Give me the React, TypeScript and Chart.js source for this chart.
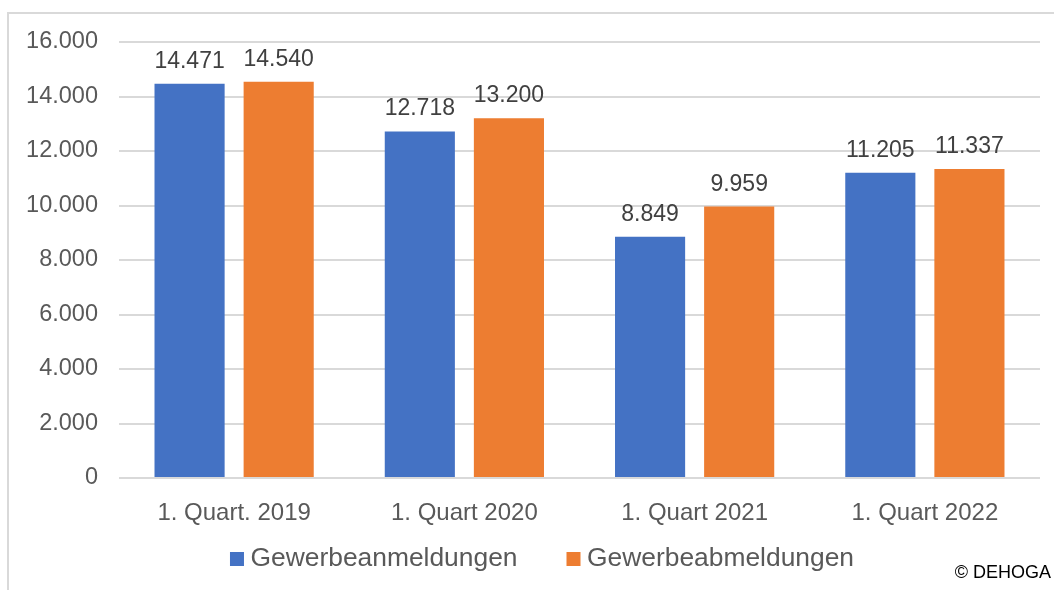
import React, { useEffect, useRef } from "react";
import { Chart, registerables } from "chart.js";

Chart.register(...registerables);

const categories = ["1. Quart. 2019", "1. Quart 2020", "1. Quart 2021", "1. Quart 2022"];
const seriesNames = ["Gewerbeanmeldungen", "Gewerbeabmeldungen"];
const anmeldungen = [14471, 12718, 8849, 11205];
const abmeldungen = [14540, 13200, 9959, 11337];
const seriesColors = ["#4472C4", "#ED7D31"];
const yMax = 16000;
const yStep = 2000;
const sourceText = "© DEHOGA";

const FONT = "'Liberation Sans', Arial, sans-serif";

const fmt = (v: number) => String(Math.round(v)).replace(/\B(?=(\d{3})+(?!\d))/g, ".");

const dataLabelPlugin = {
  id: "dataLabels",
  afterDatasetsDraw(chart: any) {
    const ctx = chart.ctx;
    ctx.save();
    ctx.font = `23px ${FONT}`;
    ctx.fillStyle = "#404040";
    ctx.textAlign = "center";
    ctx.textBaseline = "alphabetic";
    chart.data.datasets.forEach((ds: any, di: number) => {
      const meta = chart.getDatasetMeta(di);
      meta.data.forEach((el: any, i: number) => {
        ctx.fillText(fmt(ds.data[i]), el.x, el.y - 16);
      });
    });
    ctx.restore();
  },
};

const legendPlugin = {
  id: "customLegend",
  afterDraw(chart: any) {
    const ctx = chart.ctx;
    ctx.save();
    ctx.font = `26.4px ${FONT}`;
    const box = 14;
    const gap = 6.5;
    const itemGap = 49;
    const items = chart.data.datasets.map((ds: any) => ({
      label: ds.label,
      color: ds.backgroundColor,
      w: ctx.measureText(ds.label).width,
    }));
    const total =
      items.reduce((s: number, it: any) => s + box + gap + it.w, 0) + itemGap * (items.length - 1);
    let x = 542 - total / 2;
    const baseline = 566;
    items.forEach((it: any) => {
      ctx.fillStyle = it.color;
      ctx.fillRect(x, baseline - box, box, box);
      ctx.fillStyle = "#595959";
      ctx.textAlign = "left";
      ctx.textBaseline = "alphabetic";
      ctx.fillText(it.label, x + box + gap, baseline);
      x += box + gap + it.w + itemGap;
    });
    ctx.font = `18px ${FONT}`;
    ctx.fillStyle = "#000000";
    ctx.textAlign = "right";
    ctx.fillText(sourceText, 1051, 577.5);
    ctx.restore();
  },
};

export default function App() {
  const canvasRef = useRef<HTMLCanvasElement | null>(null);

  useEffect(() => {
    if (!canvasRef.current) return;
    const chart = new Chart(canvasRef.current, {
      type: "bar",
      data: {
        labels: categories,
        datasets: [
          {
            label: seriesNames[0],
            data: anmeldungen,
            backgroundColor: seriesColors[0],
            categoryPercentage: 0.774,
            barPercentage: 0.787,
          },
          {
            label: seriesNames[1],
            data: abmeldungen,
            backgroundColor: seriesColors[1],
            categoryPercentage: 0.774,
            barPercentage: 0.787,
          },
        ],
      },
      options: {
        animation: false,
        responsive: false,
        layout: { padding: { top: 42, right: 14, left: 0, bottom: 0 } },
        plugins: {
          legend: { display: false },
          tooltip: { enabled: false },
        },
        scales: {
          x: {
            grid: { display: false },
            border: { display: false },
            ticks: {
              color: "#595959",
              font: { family: FONT, size: 24 },
              padding: 13,
              maxRotation: 0,
              autoSkip: false,
            },
            afterFit: (s: any) => {
              s.height = 112;
            },
          },
          y: {
            min: 0,
            max: yMax,
            grid: { color: "#d9d9d9", lineWidth: 2, drawTicks: false },
            border: { display: false },
            ticks: {
              stepSize: yStep,
              color: "#595959",
              font: { family: FONT, size: 23.5 },
              padding: 21,
              callback: (v: any) => fmt(Number(v)),
            },
            afterFit: (s: any) => {
              s.width = 119;
            },
          },
        },
      },
      plugins: [dataLabelPlugin, legendPlugin],
    });
    return () => chart.destroy();
  }, []);

  return (
    <div
      style={{
        position: "fixed",
        left: 0,
        top: 0,
        width: 1054,
        height: 590,
        overflow: "hidden",
        background: "#ffffff",
      }}
    >
      <div
        style={{
          position: "absolute",
          left: 7,
          top: 12,
          width: 1100,
          height: 700,
          borderTop: "2px solid #d9d9d9",
          borderLeft: "2px solid #d9d9d9",
        }}
      />
      <canvas
        ref={canvasRef}
        width={1054}
        height={590}
        style={{ position: "absolute", left: 0, top: 0, display: "block" }}
      />
    </div>
  );
}
